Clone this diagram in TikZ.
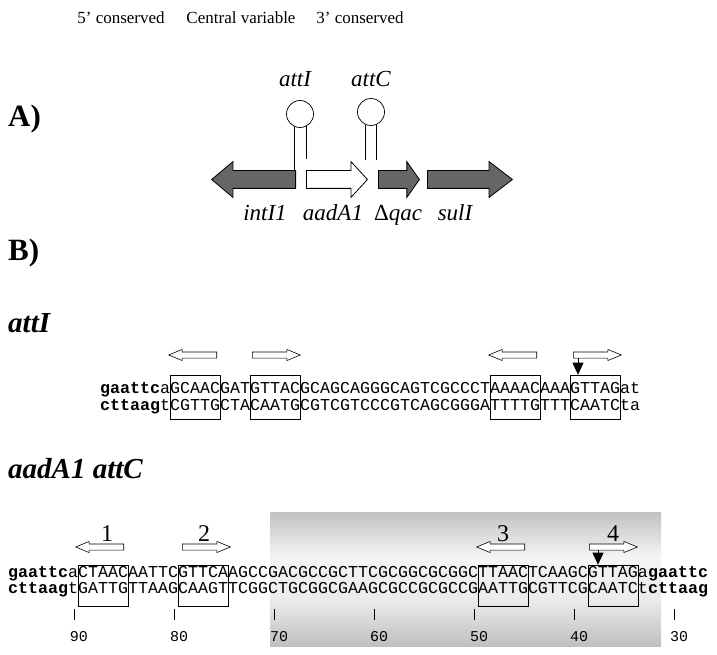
\documentclass[tikz,border=0pt]{standalone}
\usepackage{fontspec}
\setmainfont{Liberation Serif}
\setmonofont{Liberation Mono}
\usetikzlibrary{shapes.arrows,arrows.meta,positioning,calc}

\pgfdeclareverticalshading{bandshade}{100bp}{%
  color(0bp)=(black!48); color(20bp)=(black!30); color(42bp)=(black!8);
  color(58bp)=(black!4); color(80bp)=(black!30); color(100bp)=(black!50)}

\begin{document}
\begin{tikzpicture}[%
x=1pt, y=-1pt,
every node/.style={inner sep=0pt},
gene/.style={single arrow, draw, line width=0.8pt, fill=black!60,
  inner xsep=0pt, inner ysep=8.5pt, single arrow head extend=9pt},
motif/.style={single arrow, draw, line width=0.6pt, fill=white,
  inner xsep=0pt, inner ysep=2.75pt, minimum height=48pt,
  single arrow head extend=2.5pt, single arrow tip angle=45},
toleft/.style={shape border rotate=180},
motifbox/.style={draw, line width=0.6pt, minimum width=50pt},
drop/.style={line width=0.8pt, -{Triangle[length=12pt,width=11pt]}},
seq/.style={anchor=base west, font=\fontsize{16.66}{17}\selectfont\ttfamily},
title/.style={anchor=base, font=\fontsize{17}{20}\selectfont},
panel/.style={anchor=base west, font=\fontsize{31}{34}\selectfont\bfseries},
subhead/.style={anchor=base west, font=\fontsize{29}{32}\selectfont\bfseries\itshape},
genelab/.style={anchor=base, font=\fontsize{23}{26}\selectfont\itshape},
numlab/.style={anchor=base, font=\fontsize{24}{26}\selectfont},
poslab/.style={anchor=base, font=\fontsize{15}{16}\selectfont\ttfamily}
]
\useasboundingbox (0,0) rectangle (717,655);

% headings
\node[title] (five) at (121,24) {5’ conserved};
\node[title] (central) at (241,24) {Central variable};
\node[title] (three) at (360,24) {3’ conserved};
\node[panel] (pA) at (8,127) {A)};
\node[panel] (pB) at (8,260) {B)};

% A) gene cassette
\node[gene, toleft, anchor=tip, minimum height=84pt, single arrow tip angle=80] (intI) at (211,179.5) {};
\node[gene, fill=white, anchor=tail, minimum height=61pt, single arrow tip angle=95] (aadA) at (306,179.5) {};
\node[gene, anchor=tail, minimum height=41pt, single arrow tip angle=110] (qac) at (378,179.5) {};
\node[gene, anchor=tail, minimum height=85pt, single arrow tip angle=75] (sul) at (427,179.5) {};

\node[genelab] (intIlab) at (265,220) {intI1};
\node[genelab] (aadAlab) at (333,220) {aadA1};
\node[genelab] (qaclab) at (398,220) {{\upshape Δ}qac};
\node[genelab] (sullab) at (455,220) {sulI};

% stem-loops
\node[draw, circle, line width=0.7pt, minimum size=27pt] (loopI) at (300,114) {};
\node[draw, circle, line width=0.7pt, minimum size=27pt] (loopC) at (371,112) {};
\draw[line width=0.7pt] (loopI.244) -- (loopI.244 |- intI.north);
\draw[line width=0.7pt] (loopI.296) -- ++(0,33);
\draw[line width=0.7pt] (loopC.248) -- ++(0,35);
\draw[line width=0.7pt] (loopC.292) -- ++(0,35);
\node[genelab] (attIlab) at (295,87) {attI};
\node[genelab] (attClab) at (371,87) {attC};

% B) attI
\node[subhead] (hI) at (8,332) {attI};
\foreach \n/\c in {1/195,2/275,3/515,4/595}
  \node[motifbox, minimum height=44pt] (bI\n) at (\c,397) {};
\node[seq] (topI) at (100,393) {\textbf{gaattc}aGCAACGATGTTACGCAGCAGGGCAGTCGCCCTAAAACAAAGTTAGat};
\node[seq] (botI) at (100,410) {\textbf{cttaag}tCGTTGCTACAATGCGTCGTCCCGTCAGCGGGATTTTGTTTCAATCta};
\node[motif, toleft, anchor=tail] (mI1) at (217,355) {};
\node[motif, anchor=tail] (mI2) at (252,355) {};
\node[motif, toleft, anchor=tail] (mI3) at (537,355) {};
\node[motif, anchor=tail] (mI4) at (573,355) {};
\coordinate (dI) at ($(mI4.tail)+(5,2.75)$);
\draw[drop] (dI) -- (dI |- bI4.north);

% B) aadA1 attC
\node[subhead] (hC) at (8,478) {aadA1 attC};
\shade[shading=bandshade] (270,512) rectangle (661,646);
\foreach \n/\c in {1/103,2/203,3/503,4/613}
  \node[motifbox, minimum height=41pt] (bC\n) at (\c,585.5) {};
\node[seq] (topC) at (8,577) {\textbf{gaattc}aCTAACAATTCGTTCAAGCCGACGCCGCTTCGCGGCGCGGCTTAACTCAAGCGTTAGa\textbf{gaattc}};
\node[seq] (botC) at (8,593) {\textbf{cttaag}tGATTGTTAAGCAAGTTCGGCTGCGGCGAAGCGCCGCGCCGAATTGCGTTCGCAATCt\textbf{cttaag}};
\node[motif, toleft, anchor=tail] (mC1) at (124,547) {};
\node[motif, anchor=tail] (mC2) at (182,547) {};
\node[motif, toleft, anchor=tail] (mC3) at (525,547) {};
\node[motif, anchor=tail] (mC4) at (589,547) {};
\node[numlab] (n1) at (107,541) {1};
\node[numlab] (n2) at (204,541) {2};
\node[numlab] (n3) at (503,541) {3};
\node[numlab] (n4) at (613,541) {4};
\coordinate (dC) at ($(mC4.tail)+(9,2.75)$);
\draw[drop] (dC) -- (dC |- bC4.north);

% scale
\foreach \p [count=\k from 0] in {90,80,...,30}{
  \draw[line width=0.7pt] ({74+100*\k},609) -- ({74+100*\k},620);
  \node[poslab] at ({79+100*\k},641) {\p};
}

\end{tikzpicture}
\end{document}
